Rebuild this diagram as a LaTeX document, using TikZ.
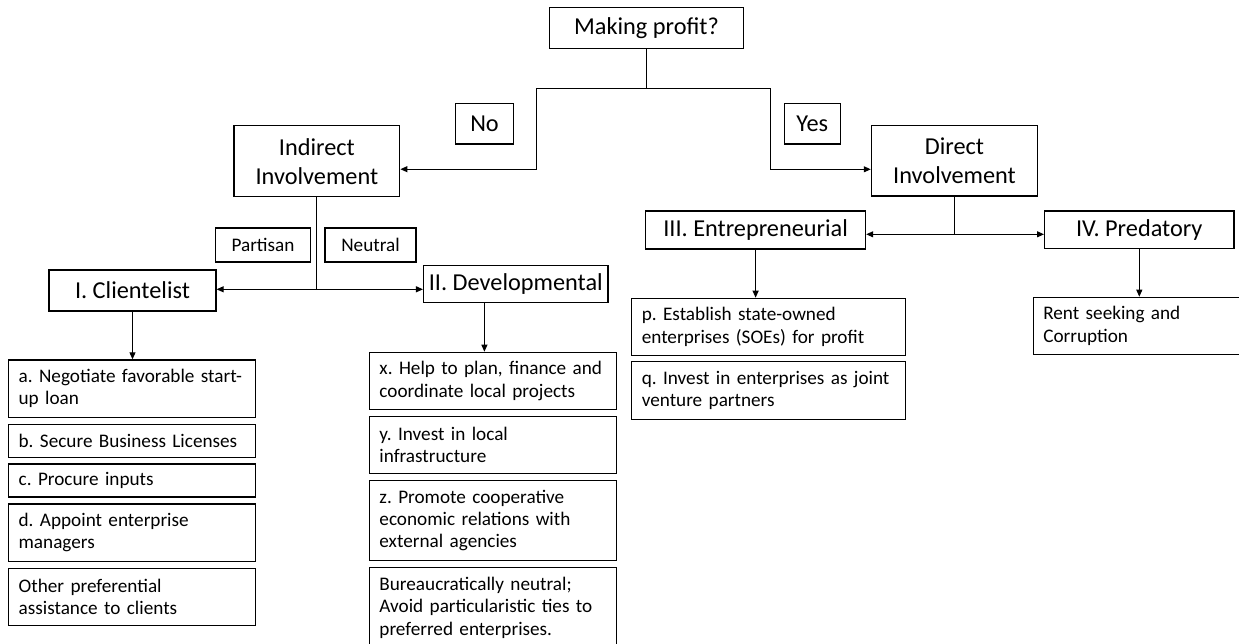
\documentclass[tikz,border=0pt]{standalone}
\usepackage{fontspec}
\setmainfont{Carlito}
\usetikzlibrary{arrows.meta, positioning, calc}
\frenchspacing
\newcommand{\bigfont}{\fontsize{24.3}{29}\selectfont}
\newcommand{\itemfont}{\fontsize{19.2}{22.3}\selectfont}

\begin{document}
\begin{tikzpicture}[x=1pt, y=-1pt]
        \tikzstyle{bigbox} = [rectangle, draw=black, line width=1.2pt, inner sep=0pt, text centered, align=center, font=\bigfont]
        \tikzstyle{tag} = [rectangle, draw=black, line width=1.2pt, inner sep=0pt, minimum height=34pt, font=\itemfont]
        \tikzstyle{item} = [rectangle, draw=black, line width=1.2pt, inner xsep=10pt, inner ysep=0pt, align=left, font=\itemfont]
        \tikzstyle{leftcol} = [text width=226.7pt]
        \tikzstyle{widecol} = [text width=253.8pt]
        \tikzstyle{rentcol} = [text width=192pt]
        \tikzstyle{oneline} = [minimum height=33pt]
        \tikzstyle{twolines} = [minimum height=57.3pt]
        \tikzstyle{threelines} = [minimum height=80.6pt]
        \tikzstyle{link} = [line width=1pt]
        \tikzstyle{arrow} = [line width=1pt, -{Triangle[length=7pt, width=6pt]}]

        \useasboundingbox (0,0) rectangle (1239,643);

        % top levels
        \node (profit) [bigbox, minimum width=194pt, minimum height=41.4pt] at (646.5,28) {Making profit?};
        \node (no) [bigbox, minimum width=58pt, minimum height=40.7pt] at (484.5,123.7) {No};
        \node (yes) [bigbox, minimum width=56pt, minimum height=40.7pt] at (812.3,123.7) {Yes};
        \node (indirect) [bigbox, minimum width=165.8pt, minimum height=71pt] at (316.9,161.2) {Indirect\\Involvement};
        \node (direct) [bigbox, minimum width=166.3pt, minimum height=70.7pt] at (954.5,160.7) {Direct\\Involvement};
        \node (partisan) [tag, minimum width=95pt] at (263,245) {Partisan};
        \node (neutral) [tag, minimum width=91pt] at (370.5,245) {Neutral};
        \node (clientelist) [bigbox, minimum width=167pt, minimum height=41pt] at (132.5,290.5) {I. Clientelist};
        \node (developmental) [bigbox, minimum width=184.5pt, minimum height=37pt] at (515.8,284.2) {II. Developmental};
        \node (entrepreneurial) [bigbox, minimum width=220pt, minimum height=38pt] at (755.6,230) {III. Entrepreneurial};
        \node (predatory) [bigbox, minimum width=189.4pt, minimum height=37.7pt] at (1139.3,229.9) {IV. Predatory};

        % clientelist column
        \node (negotiate) [item, leftcol, twolines, anchor=north] at (132,359.3) {a. Negotiate favorable start-\\up loan};
        \node (licenses) [item, leftcol, oneline, below=5.7pt of negotiate] {b. Secure Business Licenses};
        \node (inputs) [item, leftcol, oneline, below=5.7pt of licenses] {c. Procure inputs};
        \node (managers) [item, leftcol, twolines, below=5.7pt of inputs] {d. Appoint enterprise\\managers};
        \node (otherhelp) [item, leftcol, twolines, below=5.7pt of managers] {Other preferential\\assistance to clients};

        % developmental column
        \node (helpplan) [item, leftcol, twolines, anchor=north] at (492.8,351.7) {x. Help to plan, finance and\\coordinate local projects};
        \node (infra) [item, leftcol, twolines, below=5.3pt of helpplan] {y. Invest in local\\infrastructure};
        \node (promote) [item, leftcol, threelines, below=5.5pt of infra] {z. Promote cooperative\\economic relations with\\external agencies};
        \node (neutralrule) [item, leftcol, threelines, below=5.4pt of promote] {Bureaucratically neutral;\\Avoid particularistic ties to\\preferred enterprises.};

        % entrepreneurial and predatory
        \node (establish) [item, widecol, twolines, anchor=north] at (768.7,297.7) {p. Establish state-owned\\enterprises (SOEs) for profit};
        \node (jointvent) [item, widecol, twolines, below=5pt of establish] {q. Invest in enterprises as joint\\venture partners};
        \node (rentseek) [item, rentcol, twolines, anchor=north west] at (1032.7,296.7) {Rent seeking and\\Corruption};

        \coordinate (nocorner) at (536,88);
        \coordinate (yescorner) at (770.3,88);
        \coordinate (indfork) at (indirect.south |- 0,289.3);
        \coordinate (dirfork) at (direct.south |- 0,234.3);

        \draw [arrow] (profit.south) |- (nocorner) |- ([yshift=-8pt]indirect.east);
        \draw [arrow] (profit.south) |- (yescorner) |- ([yshift=-8.6pt]direct.west);
        \draw [link] (indirect.south) -- (indfork);
        \draw [arrow] (indfork) -- (indfork -| clientelist.east);
        \draw [arrow] (indfork) -- (indfork -| developmental.west);
        \draw [link] (direct.south) -- (dirfork);
        \draw [arrow] (dirfork) -- (dirfork -| entrepreneurial.east);
        \draw [arrow] (dirfork) -- (dirfork -| predatory.west);
        \draw [arrow] (clientelist.south) -- (clientelist.south |- negotiate.north);
        \draw [arrow] ([xshift=-31.4pt]developmental.south) -- ([xshift=-31.4pt]developmental.south |- helpplan.north);
        \draw [arrow] (entrepreneurial.south) -- (entrepreneurial.south |- establish.north);
        \draw [arrow] (predatory.south) -- (predatory.south |- rentseek.north);
    \end{tikzpicture}
\end{document}
